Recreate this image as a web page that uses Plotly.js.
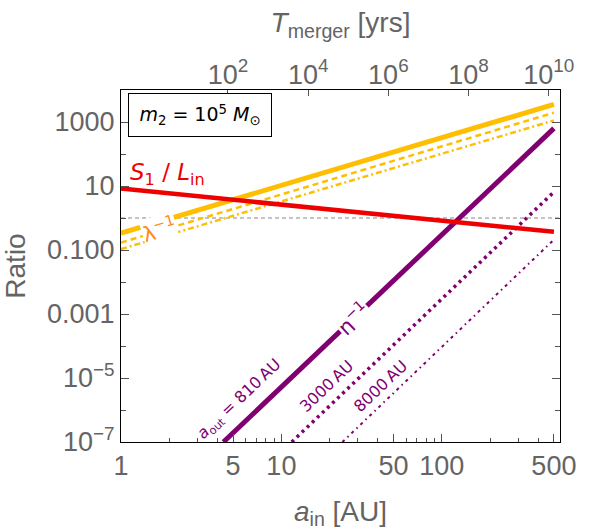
<!DOCTYPE html>
<html>
<head>
<meta charset="utf-8">
<script src="https://cdn.plot.ly/plotly-3.0.1.min.js"></script>
<style>html,body{margin:0;padding:0;background:#fff;}#plot{width:600px;height:532px;}</style>
</head>
<body>
<div id="plot"></div>
<script>
// ---- data ----
const A_IN = [1, 500];                       // a_in [AU]
const S1_OVER_LIN = [8.3, 0.37];
const LAMBDA_INV_810 = [0.34, 3540];
const LAMBDA_INV_3000 = [0.17, 1950];
const LAMBDA_INV_8000 = [0.107, 1120];
const ETA_A_810 = [4.35, 500];
const ETA_INV_810 = [1e-7, 630];
const ETA_A_3000 = [11.6, 500];
const ETA_INV_3000 = [1e-7, 6.5];
const ETA_A_8000 = [24, 500];
const ETA_INV_8000 = [1e-7, 0.21];
const UNITY_LEVEL = 1;

const X_TICKS = [1, 5, 10, 50, 100, 500];
const X_TICK_TEXT = ['1', '5', '10', '50', '100', '500'];
const X_MINOR = [2, 3, 4, 6, 7, 8, 9, 20, 30, 40, 60, 70, 80, 90, 200, 300, 400];
const Y_TICKS = [1e3, 1e1, 1e-1, 1e-3, 1e-5, 1e-7];
const Y_TICK_TEXT = ['1000', '10', '0.100', '0.001', '10<sup>\u22125</sup>', '10<sup>\u22127</sup>'];
const Y_MINOR = [1e2, 1, 1e-2, 1e-4, 1e-6];
const T_TICKS = [1e2, 1e4, 1e6, 1e8, 1e10];
const T_TICK_TEXT = ['10<sup>2</sup>', '10<sup>4</sup>', '10<sup>6</sup>', '10<sup>8</sup>', '10<sup>10</sup>'];

// ---- styles ----
const YELLOW = '#ffbf00', RED = '#ee0000', PURPLE = '#800070', ORANGE = '#ff8a1a';
const GRAY = '#646464';
const TICKFONT = {family: 'Liberation Sans, Arial, sans-serif', size: 27, color: GRAY};
const W = 600, H = 532, ML = 121, MR = 40, MT = 90, MB = 90;
const PW = W - ML - MR, PH = H - MT - MB;
const px = v => (v - ML) / PW, py = v => (H - MB - v) / PH;

const traces = [
  {x: A_IN, y: LAMBDA_INV_8000, mode: 'lines', line: {color: YELLOW, width: 2.5, dash: '6px,3px,2px,3px'}},
  {x: A_IN, y: LAMBDA_INV_3000, mode: 'lines', line: {color: YELLOW, width: 2.5, dash: '6px,4px'}},
  {x: A_IN, y: LAMBDA_INV_810, mode: 'lines', line: {color: YELLOW, width: 5}},
  {x: ETA_A_8000, y: ETA_INV_8000, mode: 'lines', line: {color: PURPLE, width: 2, dash: '3px,4px,1.5px,4px'}},
  {x: ETA_A_3000, y: ETA_INV_3000, mode: 'lines', line: {color: PURPLE, width: 3.5, dash: '3px,4px'}},
  {x: ETA_A_810, y: ETA_INV_810, mode: 'lines', line: {color: PURPLE, width: 5}},
  {x: A_IN, y: S1_OVER_LIN, mode: 'lines', line: {color: RED, width: 4.5}},
  {x: [], y: [], xaxis: 'x2', yaxis: 'y', mode: 'lines'}
];

const layout = {
  width: W, height: H,
  margin: {l: ML, r: MR, t: MT, b: MB},
  showlegend: false,
  paper_bgcolor: '#fff', plot_bgcolor: '#fff',
  font: {family: 'Liberation Sans, Arial, sans-serif', color: GRAY},
  xaxis: {
    type: 'log', range: [0, 2.737],
    tickmode: 'array', tickvals: X_TICKS, ticktext: X_TICK_TEXT,
    ticks: 'inside', ticklen: 8, tickcolor: '#555', tickwidth: 1,
    showline: true, linecolor: '#000', linewidth: 1, mirror: true,
    showgrid: false, zeroline: false, tickfont: TICKFONT,
    minor: {tickmode: 'array', tickvals: X_MINOR, ticks: 'inside', ticklen: 4, tickcolor: '#555', showgrid: false},
    title: {text: '<i>a</i><sub>in</sub> [AU]', font: {size: 28, color: GRAY}, standoff: 20}
  },
  xaxis2: {
    type: 'log', overlaying: 'x', side: 'top', anchor: 'y',
    range: [-0.668, -0.668 + 4 * 2.737],
    tickmode: 'array', tickvals: T_TICKS, ticktext: T_TICK_TEXT,
    ticks: 'inside', ticklen: 6, tickcolor: '#555',
    showline: false, showgrid: false, zeroline: false, tickfont: TICKFONT,
    title: {text: '<i>T</i><sub>merger</sub> [yrs]', font: {size: 28, color: GRAY}, standoff: 14}
  },
  yaxis: {
    type: 'log', range: [-7, 4],
    tickmode: 'array', tickvals: Y_TICKS, ticktext: Y_TICK_TEXT,
    ticks: 'inside', ticklen: 8, tickcolor: '#555',
    showline: true, linecolor: '#000', linewidth: 1, mirror: 'ticks',
    showgrid: false, zeroline: false, tickfont: TICKFONT,
    minor: {tickmode: 'array', tickvals: Y_MINOR, ticks: 'inside', ticklen: 5, tickcolor: '#555', showgrid: false},
    title: {text: 'Ratio', font: {size: 28, color: GRAY}, standoff: 22}
  },
  shapes: [
    {type: 'line', xref: 'paper', x0: 0, x1: 1, yref: 'y', y0: UNITY_LEVEL, y1: UNITY_LEVEL,
     line: {color: '#888', width: 1, dash: '4px,3px'}, layer: 'below'}
  ],
  annotations: [
    {xref: 'paper', yref: 'paper', x: px(200), y: py(115), xanchor: 'center', yanchor: 'middle',
     text: '<i>m</i><sub>2</sub> = 10<sup>5</sup> <i>M</i><sub>\u2299</sub>', showarrow: false,
     font: {family: 'DejaVu Sans, Verdana, sans-serif', size: 19, color: '#000'},
     bordercolor: '#000', borderwidth: 1, borderpad: 2, width: 138, height: 38, bgcolor: '#fff'},
    {xref: 'paper', yref: 'paper', x: px(167), y: py(174), xanchor: 'center', yanchor: 'middle',
     text: '<i>S</i><sub>1</sub> / <i>L</i><sub>in</sub>', showarrow: false,
     font: {family: 'DejaVu Sans, Verdana, sans-serif', size: 23, color: RED}},
    {xref: 'paper', yref: 'paper', x: px(159), y: py(229), xanchor: 'center', yanchor: 'middle',
     text: '\u03bb<sup>\u22121</sup>', showarrow: false, textangle: -16.7,
     font: {family: 'DejaVu Sans, Verdana, sans-serif', size: 21, color: ORANGE},
     bgcolor: '#fff', width: 32, height: 24},
    {xref: 'paper', yref: 'paper', x: px(353), y: py(318), xanchor: 'center', yanchor: 'middle',
     text: '\u03b7<sup>\u22121</sup>', showarrow: false, textangle: -43.5,
     font: {family: 'DejaVu Sans, Verdana, sans-serif', size: 21, color: PURPLE},
     bgcolor: '#fff', width: 34, height: 20},
    {xref: 'paper', yref: 'paper', x: px(239), y: py(399), xanchor: 'center', yanchor: 'middle',
     text: '<i>a</i><sub>out</sub> = 810\u2009AU', showarrow: false, textangle: -43.5,
     font: {family: 'DejaVu Sans, Verdana, sans-serif', size: 16, color: PURPLE}},
    {xref: 'paper', yref: 'paper', x: px(326), y: py(386), xanchor: 'center', yanchor: 'middle',
     text: '3000\u2009AU', showarrow: false, textangle: -43.5,
     font: {family: 'DejaVu Sans, Verdana, sans-serif', size: 16, color: PURPLE}},
    {xref: 'paper', yref: 'paper', x: px(380), y: py(386), xanchor: 'center', yanchor: 'middle',
     text: '8000\u2009AU', showarrow: false, textangle: -43.5,
     font: {family: 'DejaVu Sans, Verdana, sans-serif', size: 16, color: PURPLE}}
  ]
};

Plotly.newPlot('plot', traces, layout, {staticPlot: true, displayModeBar: false});
</script>
</body>
</html>
